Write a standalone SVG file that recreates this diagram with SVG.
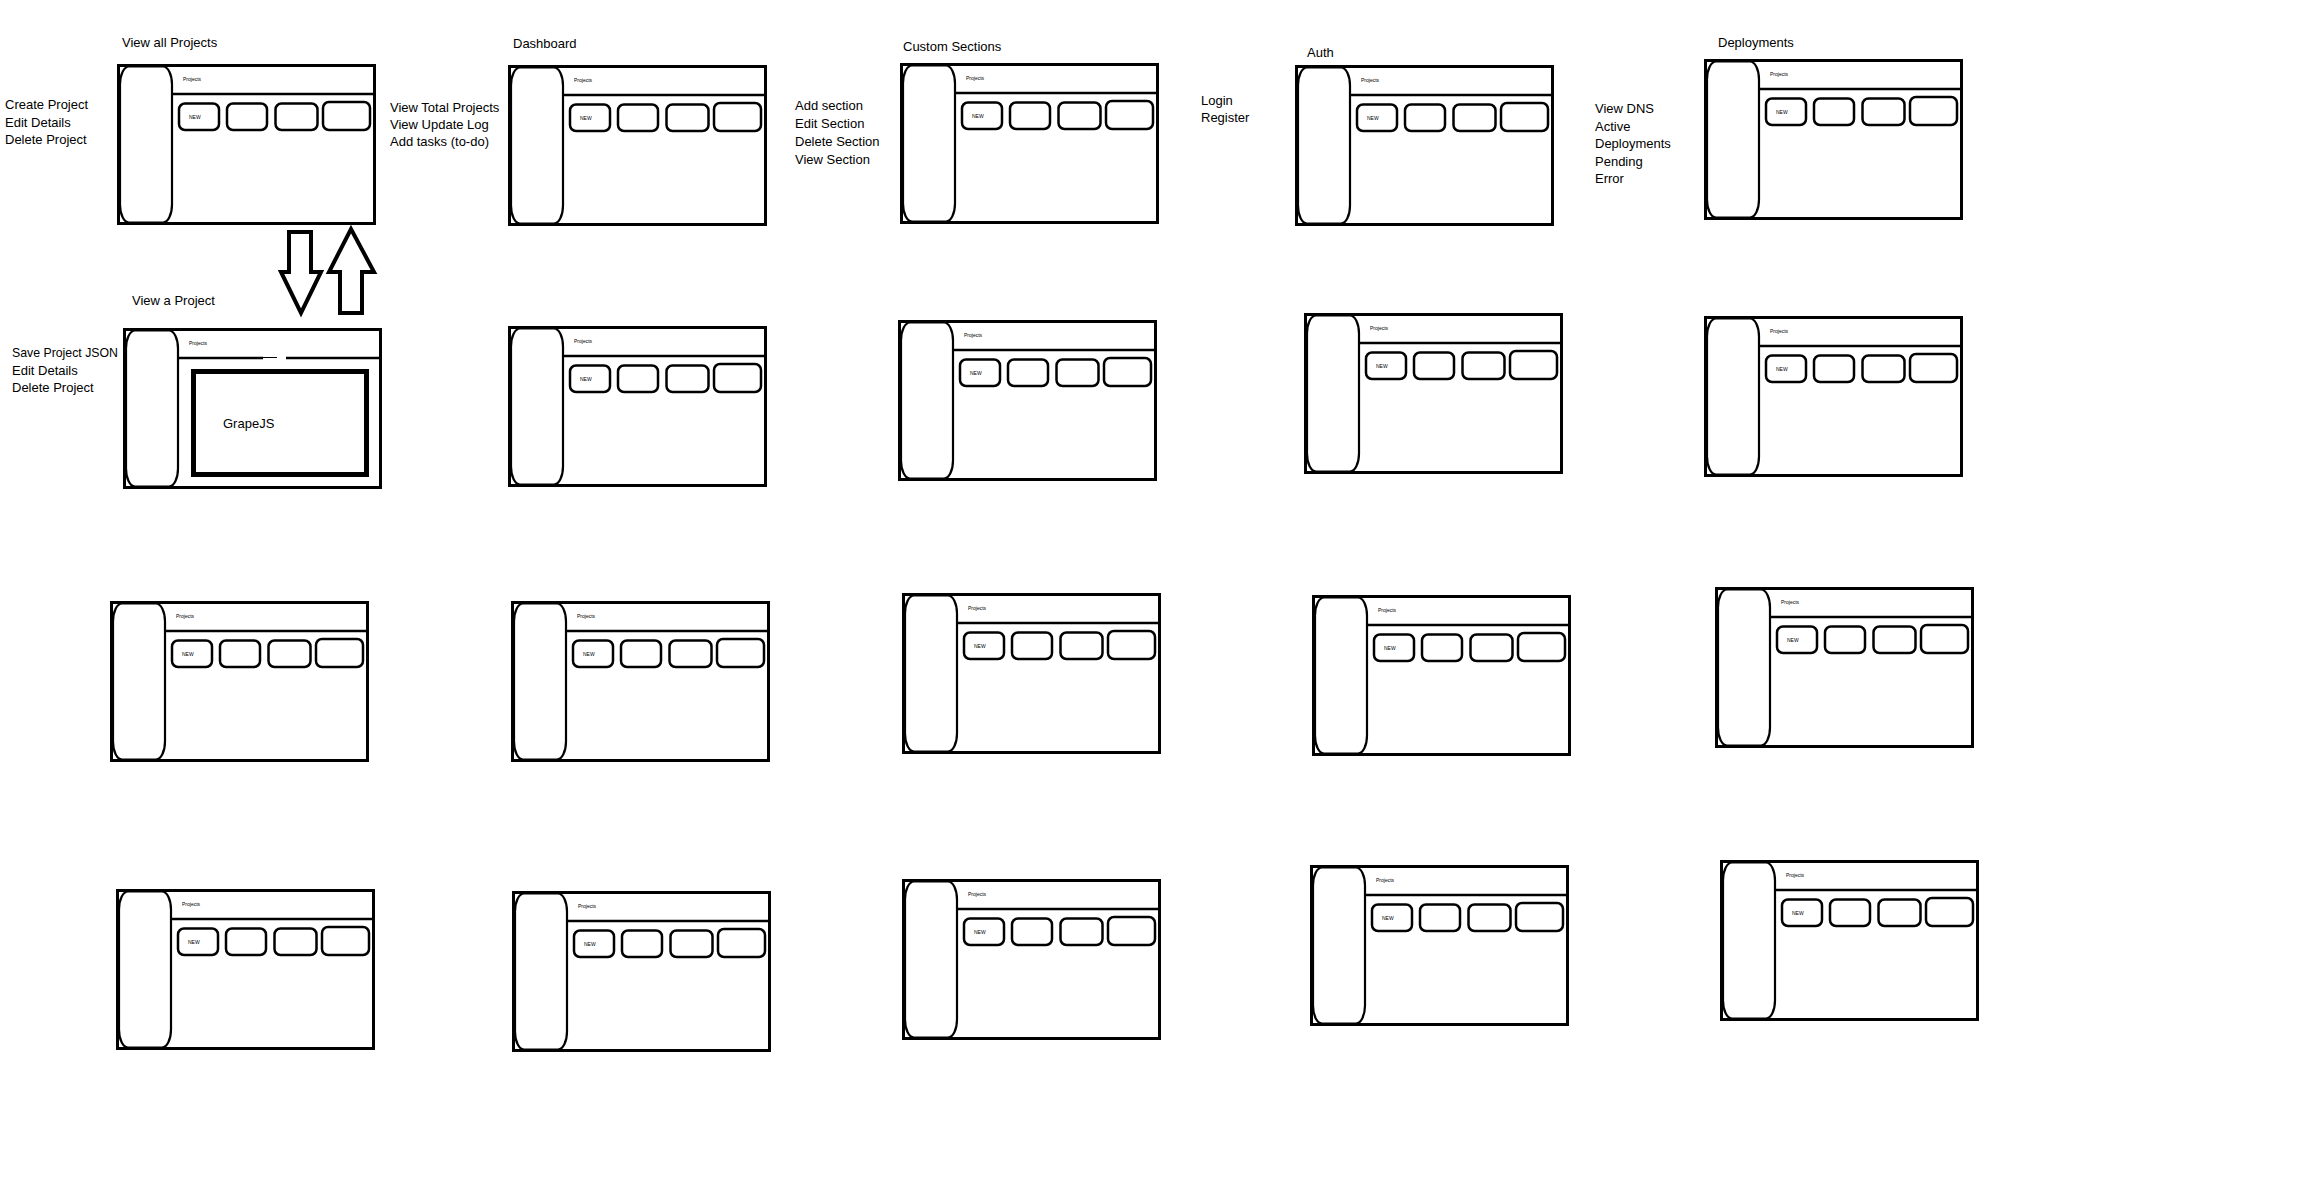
<svg xmlns="http://www.w3.org/2000/svg" xmlns:xlink="http://www.w3.org/1999/xlink" width="2303" height="1193" viewBox="0 0 2303 1193">
<style>
.bg{fill:#ffffff}
.outer{fill:#ffffff;stroke:#000;stroke-width:3}
.side{fill:#ffffff;stroke:#000;stroke-width:2.2}
.hline{stroke:#000;stroke-width:2.5}
.card{fill:#ffffff;stroke:#000;stroke-width:2.5}
.tiny{font-family:"Liberation Sans",Arial,sans-serif;font-size:5px;fill:#000}
.lbl{font-family:"Liberation Sans",Arial,sans-serif;font-size:13px;fill:#000}
.arrow{fill:#ffffff;stroke:#000;stroke-width:4;stroke-linejoin:miter}
.gjs{fill:#ffffff;stroke:#000;stroke-width:5}
</style>
<defs>
<g id="chrome">
<rect class="outer" x="1.5" y="1.5" width="256" height="158"/>
<rect class="side" x="3" y="2.5" width="52" height="156" rx="9" ry="18"/>
<text class="tiny" x="66" y="17">Projects</text>
</g>
<g id="frame">
<use xlink:href="#chrome"/>
<line class="hline" x1="55" y1="30" x2="257" y2="30"/>
<rect class="card" x="62" y="39.5" width="40" height="26.5" rx="6"/>
<rect class="card" x="110" y="39.5" width="40" height="26.5" rx="6"/>
<rect class="card" x="158.5" y="39.5" width="42" height="26.5" rx="6"/>
<rect class="card" x="206" y="38" width="47" height="28" rx="6"/>
<text class="tiny" x="72" y="55">NEW</text>
</g>
</defs>
<rect class="bg" x="0" y="0" width="2303" height="1193"/>

<g id="labels">
<text class="lbl" x="122" y="47">View all Projects</text>
<text class="lbl" x="5" y="109">Create Project</text>
<text class="lbl" x="5" y="126.5">Edit Details</text>
<text class="lbl" x="5" y="144">Delete Project</text>
<text class="lbl" x="390" y="112">View Total Projects</text>
<text class="lbl" x="390" y="129">View Update Log</text>
<text class="lbl" x="390" y="146">Add tasks (to-do)</text>
<text class="lbl" x="513" y="48">Dashboard</text>
<text class="lbl" x="903" y="51">Custom Sections</text>
<text class="lbl" x="795" y="110">Add section</text>
<text class="lbl" x="795" y="128">Edit Section</text>
<text class="lbl" x="795" y="146">Delete Section</text>
<text class="lbl" x="795" y="164">View Section</text>
<text class="lbl" x="1307" y="57">Auth</text>
<text class="lbl" x="1201" y="104.5">Login</text>
<text class="lbl" x="1201" y="122">Register</text>
<text class="lbl" x="1718" y="47">Deployments</text>
<text class="lbl" x="1595" y="113">View DNS</text>
<text class="lbl" x="1595" y="130.6">Active</text>
<text class="lbl" x="1595" y="148.2">Deployments</text>
<text class="lbl" x="1595" y="165.8">Pending</text>
<text class="lbl" x="1595" y="183.4">Error</text>
<text class="lbl" x="132" y="305">View a Project</text>
<text class="lbl" x="12" y="357" textLength="106" lengthAdjust="spacingAndGlyphs">Save Project JSON</text>
<text class="lbl" x="12" y="374.5">Edit Details</text>
<text class="lbl" x="12" y="392">Delete Project</text>
</g>

<g id="frame-view-all-projects"><use xlink:href="#frame" x="117" y="64"/></g>
<g id="frame-dashboard"><use xlink:href="#frame" x="508" y="65"/></g>
<g id="frame-custom-sections"><use xlink:href="#frame" x="900" y="63"/></g>
<g id="frame-auth"><use xlink:href="#frame" x="1295" y="65"/></g>
<g id="frame-deployments"><use xlink:href="#frame" x="1704" y="59"/></g>

<g id="frame-view-a-project">
<use xlink:href="#chrome" x="123" y="328"/>
<line class="hline" x1="178" y1="358" x2="263" y2="358"/>
<line stroke="#000" stroke-width="1" x1="263" y1="357.5" x2="277" y2="357.5"/>
<line class="hline" x1="286" y1="358" x2="381" y2="358"/>
<rect class="gjs" x="193.5" y="371.5" width="173" height="103"/>
<text class="lbl" x="223" y="428">GrapeJS</text>
</g>
<g id="frame-r2c2"><use xlink:href="#frame" x="508" y="326"/></g>
<g id="frame-r2c3"><use xlink:href="#frame" x="898" y="320"/></g>
<g id="frame-r2c4"><use xlink:href="#frame" x="1304" y="313"/></g>
<g id="frame-r2c5"><use xlink:href="#frame" x="1704" y="316"/></g>

<g id="frame-r3c1"><use xlink:href="#frame" x="110" y="601"/></g>
<g id="frame-r3c2"><use xlink:href="#frame" x="511" y="601"/></g>
<g id="frame-r3c3"><use xlink:href="#frame" x="902" y="593"/></g>
<g id="frame-r3c4"><use xlink:href="#frame" x="1312" y="595"/></g>
<g id="frame-r3c5"><use xlink:href="#frame" x="1715" y="587"/></g>

<g id="frame-r4c1"><use xlink:href="#frame" x="116" y="889"/></g>
<g id="frame-r4c2"><use xlink:href="#frame" x="512" y="891"/></g>
<g id="frame-r4c3"><use xlink:href="#frame" x="902" y="879"/></g>
<g id="frame-r4c4"><use xlink:href="#frame" x="1310" y="865"/></g>
<g id="frame-r4c5"><use xlink:href="#frame" x="1720" y="860"/></g>

<g id="connectors">
<polygon class="arrow" points="289,232 311,232 311,272 321,272 301,313 281,272 289,272"/>
<polygon class="arrow" points="340,313 362,313 362,272 374,272 351,229 329,272 340,272"/>
</g>
</svg>
